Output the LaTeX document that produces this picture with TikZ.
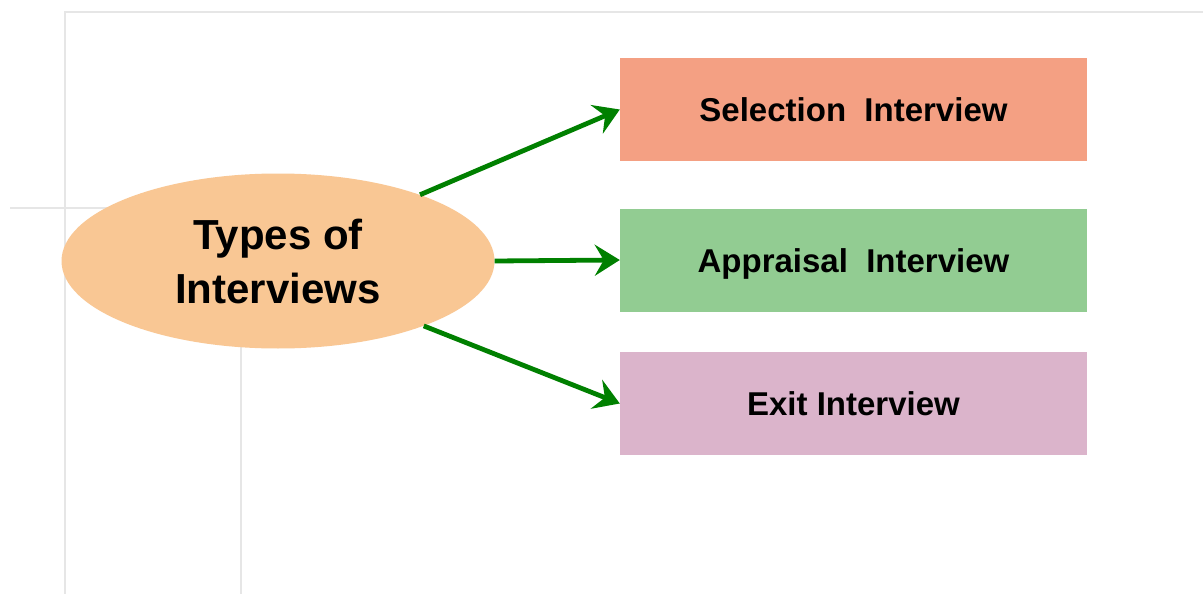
\documentclass[tikz,border=0pt]{standalone}
\usepackage{fontspec}
\setmainfont{Liberation Sans}
\usetikzlibrary{arrows.meta,shapes.geometric}
\definecolor{ellfill}{HTML}{F9C794}
\definecolor{selfill}{HTML}{F4A083}
\definecolor{appfill}{HTML}{92CC92}
\definecolor{exitfill}{HTML}{DBB4CB}
\definecolor{arrgreen}{HTML}{008000}
\definecolor{gridgray}{HTML}{E6E6E6}
\tikzset{
  gridline/.style={draw=gridgray, line width=2pt},
  ell/.style={ellipse, fill=ellfill, draw=none, minimum width=433pt, minimum height=175pt, inner sep=0pt, align=center, font=\fontsize{42}{54}\selectfont\bfseries},
  typebox/.style={rectangle, draw=none, minimum width=467pt, minimum height=103pt, inner sep=0pt, text height=24pt, text depth=0pt, font=\fontsize{33}{38}\selectfont\bfseries},
  conn/.style={draw=arrgreen, line width=4.8pt, -{Stealth[length=25pt, width=31pt, inset=9pt]}}
}
\begin{document}
\begin{tikzpicture}[x=1pt,y=-1pt]
\useasboundingbox (0,0) rectangle (1203,594);
\fill[white] (0,0) rectangle (1203,594);
\draw[gridline] (64.5,594) -- (64.5,12) -- (1203,12);
\draw[gridline] (10,208) -- (120,208);
\draw[gridline] (241,320) -- (241,594);
\node[ell] (types) at (278,261) {Types of\\Interviews};
\node[typebox, fill=selfill] (sel) at (853.5,109.5) {Selection\ \ Interview};
\node[typebox, fill=appfill] (app) at (853.5,260) {Appraisal\ \ Interview};
\node[typebox, fill=exitfill] (exit) at (853.5,403.5) {Exit Interview};
\draw[conn] (types.25) -- (sel.west);
\draw[conn] (types.east) -- (app.west);
\draw[conn] (types.-24) -- (exit.west);
\end{tikzpicture}
\end{document}
